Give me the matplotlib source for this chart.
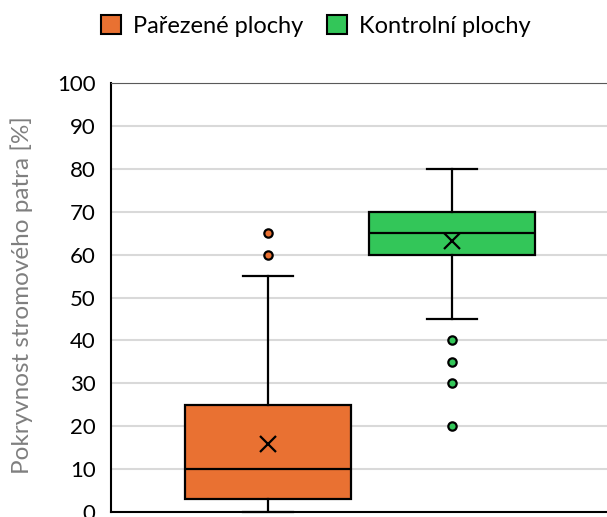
import matplotlib
matplotlib.use("Agg")
import matplotlib.pyplot as plt
from matplotlib.patches import Patch

# data
groups = ["Pařezené plochy", "Kontrolní plochy"]
colors = ["#E97132", "#33C659"]
whislo = [0, 45]
q1 = [3, 60]
med = [10, 65]
q3 = [25, 70]
whishi = [55, 80]
means = [15.8, 63.2]
fliers = [[60, 65], [40, 35, 30, 20]]

plt.rcParams['font.family'] = ['Lato', 'DejaVu Sans']

fig = plt.figure(figsize=(6.07, 5.17), dpi=100)
ax = fig.add_axes([111 / 607, 5 / 517, 1 - 111 / 607, (512 - 83) / 517])

stats = []
for i in range(len(groups)):
    stats.append({"label": groups[i], "whislo": whislo[i], "q1": q1[i], "med": med[i],
                  "q3": q3[i], "whishi": whishi[i], "mean": means[i], "fliers": fliers[i]})

positions = [1, 2]
bp = ax.bxp(stats, positions=positions, widths=0.9, capwidths=0.27, patch_artist=True,
            showmeans=True, showfliers=True,
            boxprops=dict(linewidth=1.6, edgecolor="black"),
            medianprops=dict(color="black", linewidth=1.6),
            whiskerprops=dict(color="black", linewidth=1.6),
            capprops=dict(color="black", linewidth=1.6),
            meanprops=dict(marker="x", markeredgecolor="black", markersize=11, markeredgewidth=1.6))

for patch, c in zip(bp["boxes"], colors):
    patch.set_facecolor(c)
for fl, c in zip(bp["fliers"], colors):
    fl.set_marker("o")
    fl.set_markerfacecolor(c)
    fl.set_markeredgecolor("black")
    fl.set_markeredgewidth(1.6)
    fl.set_markersize(6)
for cap in bp["caps"]:
    cap.set_clip_on(False)

ax.set_xlim(1 - 157 / 184, 2 + 155 / 184)
ax.set_ylim(0, 100)
ax.set_yticks(range(0, 101, 10))
ax.set_xticks([])
ax.tick_params(axis="y", length=0, labelsize=16, pad=11)
ax.yaxis.grid(True, color="#D9D9D9", linewidth=1.5)
ax.set_axisbelow(True)

ax.spines["right"].set_visible(False)
ax.spines["top"].set_color("#595959")
ax.spines["left"].set_linewidth(1.5)
ax.spines["bottom"].set_linewidth(1.5)

fig.text(22 / 607, 1 - 295 / 517, "Pokryvnost stromového patra [%]", rotation=90,
         ha="center", va="center", fontsize=17.5, color="#7F7F7F")

handles = [Patch(facecolor=c, edgecolor="black", linewidth=1.5) for c in colors]
fig.legend(handles, groups, loc="center", bbox_to_anchor=(0.52, 1 - 26 / 517), ncol=2,
           frameon=False, fontsize=17, handlelength=0.85, handleheight=0.85,
           handletextpad=0.5, columnspacing=1.0, borderpad=0)

fig.savefig("out.png", dpi=100)
